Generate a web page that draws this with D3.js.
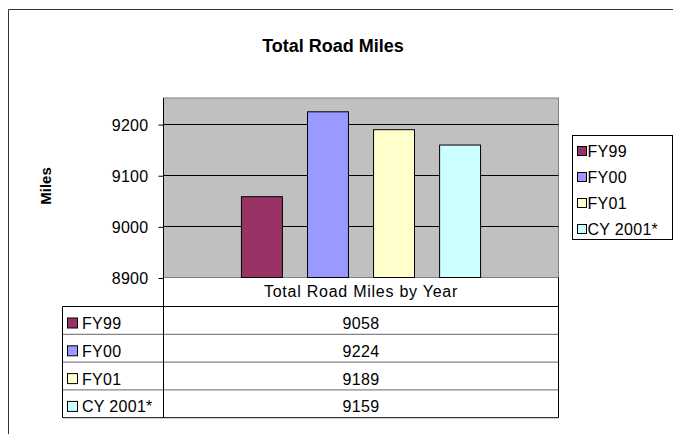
<!DOCTYPE html>
<html>
<head>
<meta charset="utf-8">
<script src="https://cdn.jsdelivr.net/npm/d3@7"></script>
<style>
  body { margin: 0; background: #fff; }
  svg text { font-family: "Liberation Sans", Arial, sans-serif; fill: #000; }
</style>
</head>
<body>
<svg id="chart" width="673" height="434"></svg>
<script>
const series = ['FY99', 'FY00', 'FY01', 'CY 2001*'];
const values = [9058, 9224, 9189, 9159];
const colors = ['#993366', '#9999FF', '#FFFFCC', '#CCFFFF'];
const category = ['Total Road Miles by Year'];
const yTicks = [8900, 9000, 9100, 9200];

const svg = d3.select('#chart');

// outer chart frame (top + left edges visible)
svg.append('path')
.attr('d', 'M8.5,434 L8.5,9.5 L673,9.5')
.attr('fill', 'none')
.attr('stroke', '#333')
.attr('stroke-width', 1);

svg.append('text')
.attr('x', 333)
.attr('y', 52)
.attr('text-anchor', 'middle')
.style('font-size', '18px')
.style('font-weight', 'bold')
.text('Total Road Miles');

const plot = {left: 163.5, right: 558.5, top: 98, bottom: 277.5};

const y = d3.scaleLinear()
.domain([8900, 9251])
.range([plot.bottom, plot.top]);

const x0 = d3.scaleBand()
.domain(category)
.range([plot.left, plot.right]);

const x1 = d3.scaleBand()
.domain(series)
.range([0, x0.bandwidth()])
.paddingInner(0.38)
.paddingOuter(1.18);

svg.append('rect')
.attr('x', plot.left)
.attr('y', plot.top)
.attr('width', plot.right - plot.left)
.attr('height', plot.bottom - plot.top)
.attr('fill', '#C0C0C0')
.attr('stroke', '#808080')
.attr('stroke-width', 1);

// gridlines
svg.selectAll('.grid')
.data(yTicks.slice(1))
.enter()
.append('line')
.attr('x1', plot.left)
.attr('x2', plot.right)
.attr('y1', d => Math.round(y(d)) + 0.5)
.attr('y2', d => Math.round(y(d)) + 0.5)
.attr('stroke', '#000');

svg.selectAll('.bar')
.data(values)
.enter()
.append('rect')
.attr('x', (d, i) => x0(category[0]) + x1(series[i]))
.attr('y', d => y(d))
.attr('width', x1.bandwidth())
.attr('height', d => plot.bottom - y(d))
.attr('fill', (d, i) => colors[i])
.attr('stroke', '#000')
.attr('stroke-width', 1);

// y axis
const yAxis = svg.append('g')
.attr('transform', `translate(${plot.left}, 0.5)`)
.call(d3.axisLeft(y).tickValues(yTicks).tickSize(5).tickPadding(10).tickFormat(d3.format('d')));
yAxis.select('.domain').attr('d', `M0,${plot.top - 0.5}V${plot.bottom}`).attr('stroke', '#000');
yAxis.selectAll('line').attr('stroke', '#000');
yAxis.selectAll('text')
.style('font-size', '16px')
.style('letter-spacing', '0.3px')
.style('font-family', '"Liberation Sans", Arial, sans-serif')
.attr('dy', '0.35em');

svg.append('text')
.attr('transform', 'rotate(-90)')
.attr('x', -186)
.attr('y', 51)
.attr('text-anchor', 'middle')
.style('font-size', '15px')
.style('font-weight', 'bold')
.text('Miles');

// data table
const table = {left: 62.5, header: 306.5, rowH: 27.8};
const rowY = i => table.header + i * table.rowH;

svg.append('text')
.attr('x', x0(category[0]) + x0.bandwidth() / 2)
.attr('y', 297)
.attr('text-anchor', 'middle')
.style('font-size', '16px')
.style('letter-spacing', '0.75px')
.text(category[0]);

series.forEach((s, i) => {
  svg.append('line')
  .attr('x1', table.left).attr('x2', plot.right)
  .attr('y1', rowY(i)).attr('y2', rowY(i))
  .attr('stroke', i === 0 ? '#000' : '#666');
  svg.append('rect')
  .attr('x', 67.5).attr('y', rowY(i) + 11.5)
  .attr('width', 10).attr('height', 10)
  .attr('fill', colors[i]).attr('stroke', '#000');
  svg.append('text')
  .attr('x', 82)
  .attr('y', rowY(i) + 22.5)
  .style('font-size', '16px')
  .style('letter-spacing', '0.3px')
  .text(s);
  svg.append('text')
  .attr('x', x0(category[0]) + x0.bandwidth() / 2)
  .attr('y', rowY(i) + 22.5)
  .attr('text-anchor', 'middle')
  .style('font-size', '16px')
  .style('letter-spacing', '0.3px')
  .text(values[i]);
});

const tableBottom = rowY(series.length);
svg.append('line')
.attr('x1', table.left).attr('x2', plot.right)
.attr('y1', tableBottom).attr('y2', tableBottom)
.attr('stroke', '#000');
svg.append('line')
.attr('x1', table.left).attr('x2', table.left)
.attr('y1', table.header).attr('y2', tableBottom)
.attr('stroke', '#000');
svg.append('line')
.attr('x1', plot.left).attr('x2', plot.left)
.attr('y1', plot.bottom).attr('y2', tableBottom)
.attr('stroke', '#000');
svg.append('line')
.attr('x1', plot.right).attr('x2', plot.right)
.attr('y1', plot.bottom).attr('y2', tableBottom)
.attr('stroke', '#000');

// legend
const legend = svg.append('g').attr('transform', 'translate(572.5, 135.5)');
legend.append('rect')
.attr('width', 100).attr('height', 104)
.attr('fill', '#fff').attr('stroke', '#000');
series.forEach((s, i) => {
  legend.append('rect')
  .attr('x', 5).attr('y', 11 + i * 26)
  .attr('width', 9).attr('height', 9)
  .attr('fill', colors[i]).attr('stroke', '#000');
  legend.append('text')
  .attr('x', 15)
  .attr('y', 21 + i * 26)
  .style('font-size', '16px')
  .style('letter-spacing', '0.3px')
  .text(s);
});
</script>
</body>
</html>
